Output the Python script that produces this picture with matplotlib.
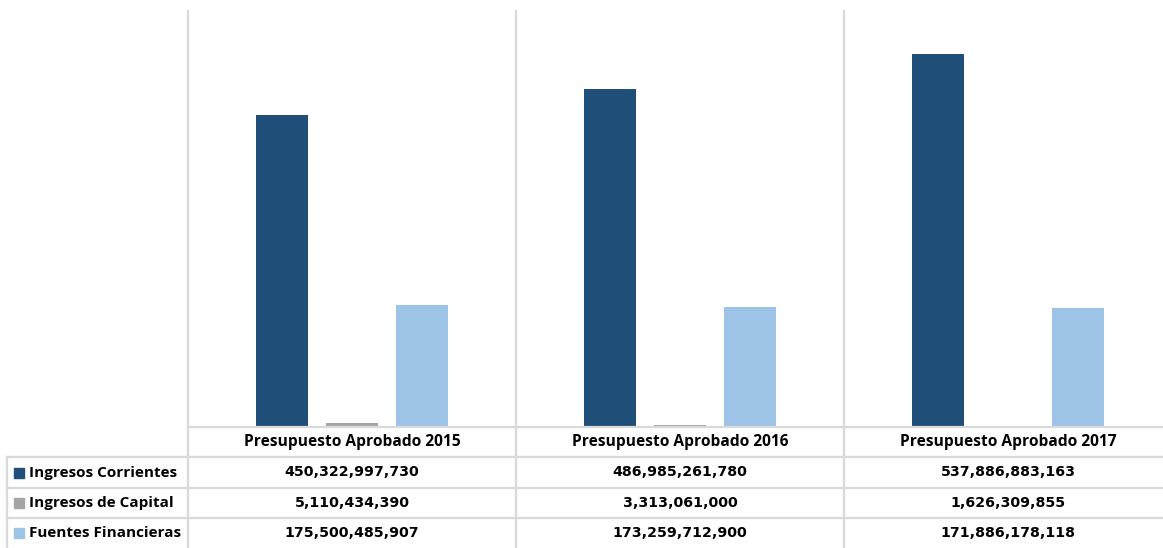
import matplotlib
matplotlib.use("Agg")
import matplotlib.pyplot as plt
from matplotlib.patches import Rectangle

categories = ["Presupuesto Aprobado 2015", "Presupuesto Aprobado 2016", "Presupuesto Aprobado 2017"]
series_names = ["Ingresos Corrientes", "Ingresos de Capital", "Fuentes Financieras"]
ingresos_corrientes = [450322997730, 486985261780, 537886883163]
ingresos_capital = [5110434390, 3313061000, 1626309855]
fuentes_financieras = [175500485907, 173259712900, 171886178118]
colors = ["#1F4E79", "#A5A5A5", "#9DC3E6"]

plt.rcParams['font.family'] = ['Open Sans', 'DejaVu Sans']

W, H = 1163, 548
fig = plt.figure(figsize=(W / 100, H / 100), dpi=100)
left_px, right_px, top_px, base_px = 188, 1163, 11, 427
ax = fig.add_axes([left_px / W, (H - base_px) / H, (right_px - left_px) / W, (base_px - top_px) / H])

cat_w = 328.0
xmax = -0.5 + (right_px - left_px) / cat_w
ax.set_xlim(-0.5, xmax)
ax.set_ylim(0, 6e11)
ax.axis('off')

series = [ingresos_corrientes, ingresos_capital, fuentes_financieras]
bw = 52 / cat_w
off = 70 / cat_w
xs = range(len(categories))
for i, (vals, c) in enumerate(zip(series, colors)):
    ax.bar([x + (i - 1) * off for x in xs], vals, width=bw, color=c, zorder=3)

grid = "#D9D9D9"
ax_h = base_px - top_px

def yf(py):
    return (base_px - py) / ax_h

trans = ax.get_xaxis_transform()
# vertical separators
for xv in [-0.5, 0.5, 1.5]:
    ax.plot([xv, xv], [1, yf(H)], color=grid, lw=1.6, transform=trans, clip_on=False, zorder=1)
# horizontal lines
ax.plot([-0.5, xmax], [0, 0], color=grid, lw=1.6, transform=trans, clip_on=False, zorder=4)
for py in [457, 488, 518]:
    fig.add_artist(plt.Line2D([7 / W, 1], [(H - py) / H] * 2, color=grid, lw=1.6))
fig.add_artist(plt.Line2D([7 / W, 7 / W], [(H - 457) / H, 0], color=grid, lw=1.6))

for x, cat in zip(xs, categories):
    ax.text(x, yf(442), cat, transform=trans, ha='center', va='center',
            fontsize=11.2, fontweight='bold', clip_on=False)

row_centers = [472.5, 503, 533]
for vals, rc in zip(series, row_centers):
    for x, v in zip(xs, vals):
        ax.text(x, yf(rc), f"{v:,}", transform=trans, ha='center', va='center',
                fontsize=10.2, fontweight='bold', family=['DejaVu Sans'], clip_on=False)

for name, c, rc in zip(series_names, colors, row_centers):
    fig.add_artist(Rectangle((14 / W, (H - rc - 5) / H), 10 / W, 10 / H, color=c, transform=fig.transFigure))
    fig.text(29 / W, (H - rc) / H, name, ha='left', va='center', fontsize=11, fontweight='bold')

fig.savefig("out.png", dpi=100, facecolor='white')
